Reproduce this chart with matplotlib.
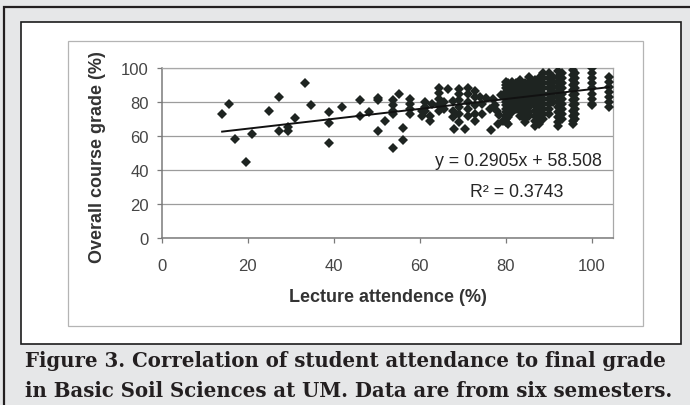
import numpy as np
import matplotlib.pyplot as plt
from matplotlib.patches import Rectangle

# scattered students, lower attendance
sparse_x = [14, 15.6, 17, 19.5, 21, 25, 27.3, 27.3, 29.3, 29.3, 31, 33.3, 34.7,
            38.8, 38.8, 38.8, 42, 46, 46, 48.3, 50.2, 50.2, 50.2, 52, 53.7, 53.7,
            53.7, 53.7, 53.7, 55.2, 56, 56, 57.8, 57.8, 57.8, 57.8]
sparse_y = [73, 79, 58, 45, 61, 74.5, 83, 63, 65.5, 63, 70.5, 91, 78,
            74, 67.5, 56, 77, 81, 71.5, 74, 82.5, 81, 63, 69, 81, 78,
            75, 73, 52.7, 84.5, 65, 57.5, 81.5, 79, 76, 73]

# middle band (60-80 % attendance)
mid_x = [60.5, 60.5, 61.3, 61.3, 61.3, 62.5, 62.5, 62.8, 64.4, 64.4, 64.4, 64.4, 64.4,
         65.6, 65.6, 66.7, 67.7, 67.7, 67.7, 68, 69.1, 69.1, 69.1, 69.1, 69.1, 69.1,
         70.6, 71.2, 71.2, 71.2, 71.2, 71.2, 72.8, 72.8, 72.8, 72.8, 72.8,
         74, 74.5, 74.5, 75.5, 76.4, 76.7, 77, 77.5, 78, 78.2, 78.5, 79, 79.3]
mid_y = [75, 72, 80, 77, 75, 72, 69, 79, 88.5, 85.5, 82, 78, 75,
         80, 76, 87.5, 80.5, 75, 71, 64, 87.5, 84.5, 81, 77, 73, 68,
         64, 88.5, 85, 80, 76, 72, 86.5, 83, 78, 73, 69,
         83, 79, 73, 82.5, 76, 63.5, 82, 78.5, 75, 67, 72.5, 84, 69]

# dense columns at high attendance: attendance value -> grades
col_x = [80, 80.6, 81.5, 82.5, 83.3, 84.5, 85.5, 86.8, 87.7, 88.6, 90, 91,
         92.3, 93.2, 95.8, 96.2, 100, 104]
col_y = [
    [92, 90, 88, 86, 84, 82, 80, 78, 76, 74, 72, 70, 68],
    [91, 87, 83, 79, 75, 71, 67],
    [92, 89, 86, 83, 80, 77, 74],
    [91, 88, 85, 82, 79, 76],
    [93, 90, 87, 84, 81, 78, 75, 72],
    [91, 88, 85, 82, 79, 76, 73, 70, 68],
    [95, 92, 89, 86, 83, 80, 77, 74, 72],
    [93, 90, 87, 84, 81, 78, 75, 72, 69, 66],
    [94, 91, 88, 85, 82, 79, 76, 73, 70, 67],
    [97, 94, 91, 88, 85, 82, 79, 76, 73, 70],
    [97, 94, 91, 88, 85, 82, 79, 76, 73],
    [95, 92, 89, 86, 83, 80],
    [98, 95, 92, 89, 86, 83, 80, 77, 74, 71, 68, 66],
    [97, 94, 91, 88, 85, 82, 79, 76, 73, 70],
    [99, 96, 93, 90, 87, 84, 81, 78, 75, 72, 69, 67],
    [97, 94, 91, 88, 85, 82, 79, 76, 73, 70],
    [100, 97, 94, 91, 88, 85, 82, 79, 78],
    [95, 92, 89, 86, 83, 80, 77],
]

# linear trendline as printed on the chart
slope, intercept = 0.2905, 58.508
trend_x = [14, 104]
eq_text = 'y = 0.2905x + 58.508'
r2_text = 'R² = 0.3743'

xticks = [0, 20, 40, 60, 80, 100]
yticks = [0, 20, 40, 60, 80, 100]

caption = ('Figure 3. Correlation of student attendance to final grade\n'
           'in Basic Soil Sciences at UM. Data are from six semesters.')

W, H = 690, 406
def fx(p): return p / W
def fy(p): return 1 - p / H

plt.rcParams['font.family'] = ['Liberation Sans', 'DejaVu Sans']

fig = plt.figure(figsize=(W / 100, H / 100), dpi=100, facecolor='#e6e7e8')

# page frame (dark line top and left), white box, chart area border
fig.add_artist(Rectangle((fx(4), -0.1), 1.2, fy(8) + 0.1, transform=fig.transFigure,
                         fill=False, ec='#231f20', lw=1.6, zorder=-3))
fig.add_artist(Rectangle((fx(21), fy(345)), fx(681) - fx(21), fy(23) - fy(345),
                         transform=fig.transFigure, fc='white', ec='#1c1c1c', lw=1.2,
                         zorder=-2))
fig.add_artist(Rectangle((fx(68), fy(327)), fx(643) - fx(68), fy(42) - fy(327),
                         transform=fig.transFigure, fill=False, ec='#b4b4b4', lw=0.9,
                         zorder=-1))

ax = fig.add_axes([fx(162), fy(239), fx(613) - fx(162), fy(69) - fy(239)])
ax.set_facecolor('none')

all_x = sparse_x + mid_x + [x for x, ys in zip(col_x, col_y) for _ in ys]
all_y = sparse_y + mid_y + [y for ys in col_y for y in ys]
ax.plot(all_x, all_y, 'D', ms=5.1, color='#1e2421', mew=0, zorder=3)

tx = np.array(trend_x)
ax.plot(tx, slope * tx + intercept, color='#111111', lw=1.4, zorder=4)

ax.set_xlim(0, 105)
ax.set_ylim(0, 100)
ax.set_xticks(xticks)
ax.set_yticks(yticks)
ax.grid(axis='y', color='#9c9c9c', lw=0.9)
ax.set_axisbelow(True)
for side in ['top', 'right']:
    ax.spines[side].set_color('#a8a8a8')
    ax.spines[side].set_linewidth(0.9)
for side in ['left', 'bottom']:
    ax.spines[side].set_color('#7a7a7a')
    ax.spines[side].set_linewidth(1.1)
ax.tick_params(direction='out', length=3.5, width=0.9, color='#7a7a7a',
               labelsize=12, labelcolor='#454545')
ax.tick_params(axis='x', pad=11)
ax.tick_params(axis='y', pad=6)

ax.text(0.976, 0.453, eq_text, transform=ax.transAxes, ha='right', va='center',
        fontsize=12.8, color='#262626')
ax.text(0.889, 0.276, r2_text, transform=ax.transAxes, ha='right', va='center',
        fontsize=12.8, color='#262626')

fig.text(fx(388), fy(298), 'Lecture attendence (%)', ha='center', va='center',
         fontsize=13, fontweight='bold', color='#333333')
fig.text(fx(97), fy(157), 'Overall course grade (%)', ha='center', va='center',
         rotation=90, fontsize=13, fontweight='bold', color='#333333')

fig.text(fx(25), fy(351), caption, ha='left', va='top', fontsize=14.2,
         fontweight='bold', family='DejaVu Serif', color='#231f20', linespacing=1.62)

fig.savefig('out.png', dpi=100, facecolor=fig.get_facecolor())
